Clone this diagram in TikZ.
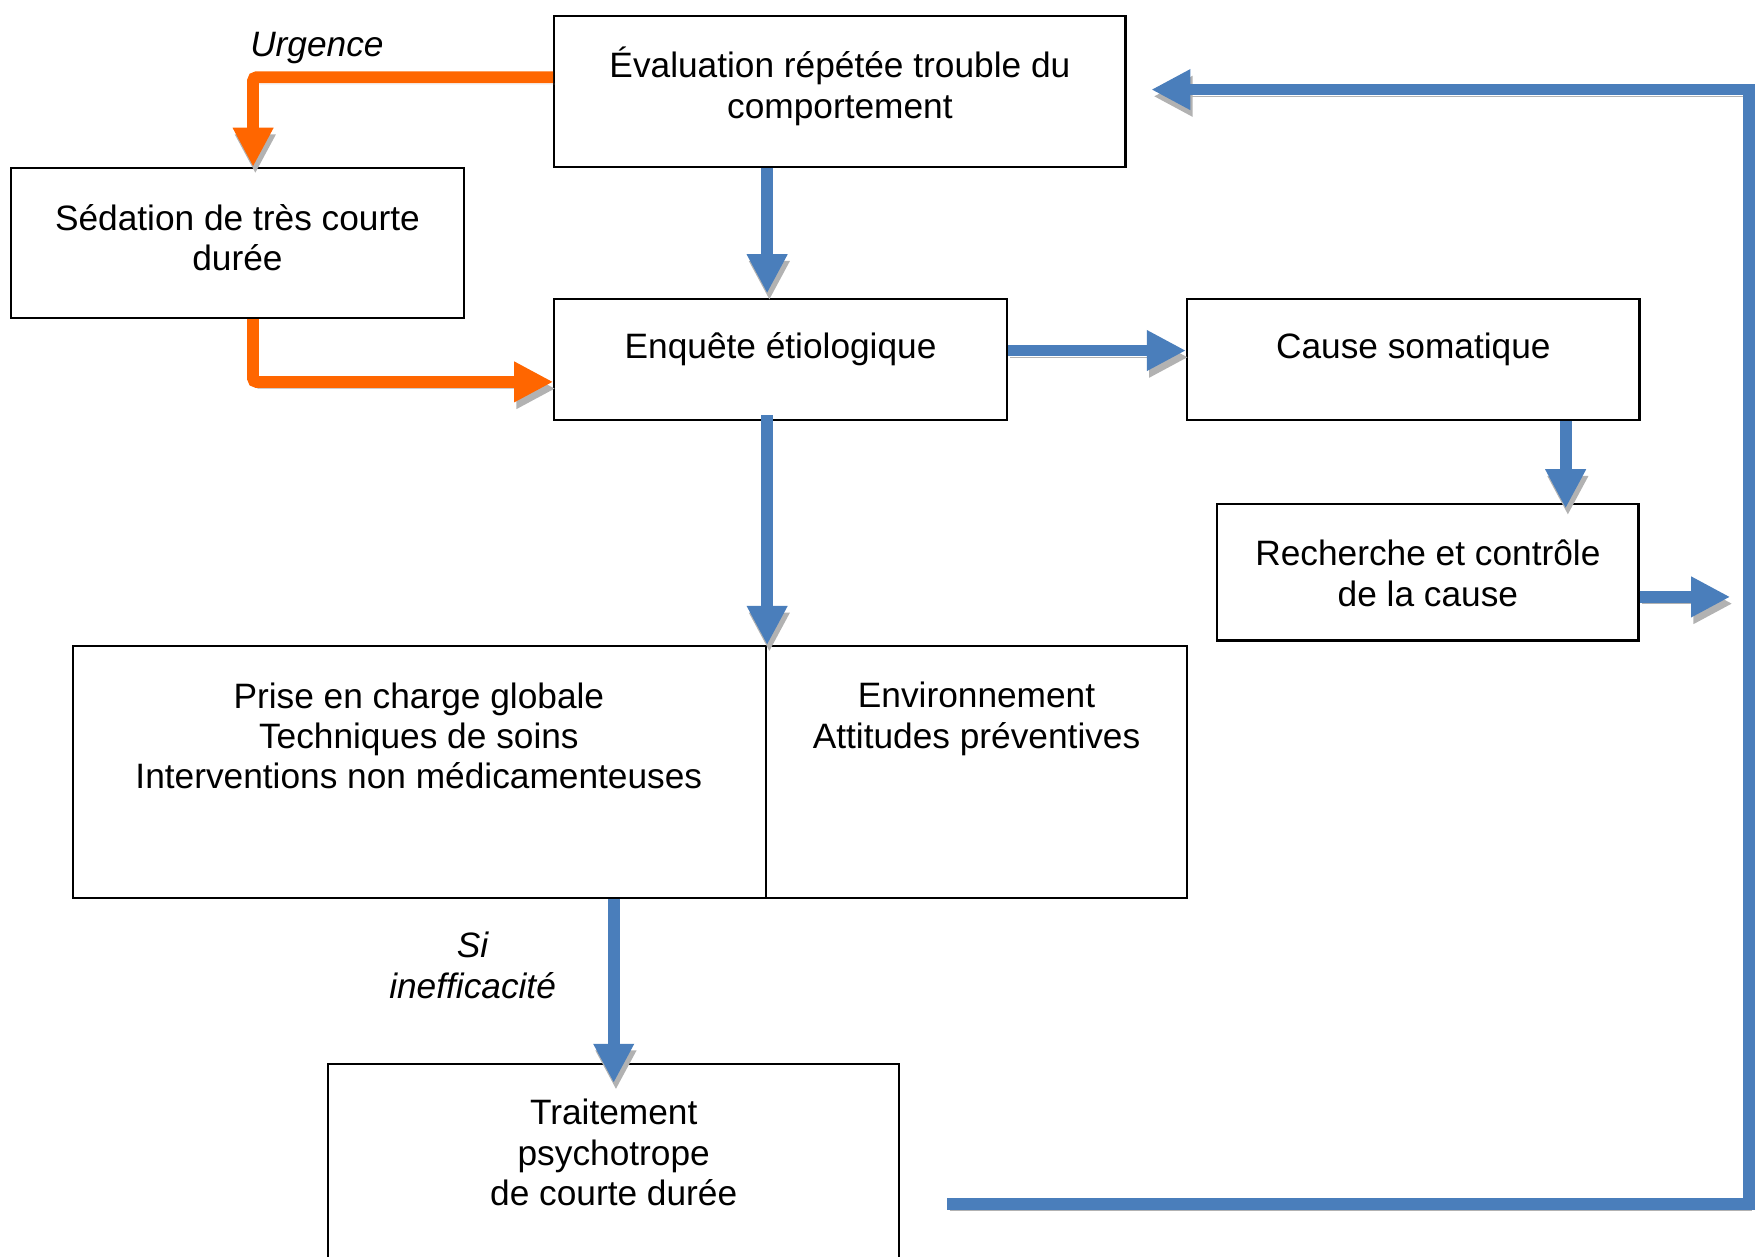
\documentclass[tikz,border=0pt]{standalone}
\usepackage{fontspec}
\setmainfont{Liberation Sans}
\usetikzlibrary{arrows.meta,calc}
\definecolor{arrblue}{HTML}{4A7EBB}
\definecolor{arrorange}{HTML}{FF6600}
\tikzset{
  box/.style={draw=black, line width=2pt, rectangle, inner sep=0pt},
  txt/.style={align=center, inner sep=0pt, font=\fontsize{31.5pt}{36pt}\selectfont},
  itxt/.style={txt, font=\fontsize{31.5pt}{36pt}\selectfont\itshape},
  conn/.style={line width=10.5pt, -{Triangle[width=34pt,length=35pt]},
    preaction={draw=gray!60, transform canvas={xshift=2pt,yshift=-6pt}}},
  blueconn/.style={conn, draw=arrblue, color=arrblue},
  orangeconn/.style={conn, draw=arrorange, color=arrorange, rounded corners=3pt},
}
\begin{document}
\begin{tikzpicture}[x=1pt,y=-1pt]
\useasboundingbox (0,0) rectangle (1568,1122);
% boxes
\node[box, minimum width=510pt, minimum height=135pt] (eval) at (750,81.5) {};
\node[box, minimum width=404pt, minimum height=134pt] (sed) at (212,217) {};
\node[box, minimum width=404pt, minimum height=108pt] (enq) at (697,321) {};
\node[box, minimum width=404pt, minimum height=108pt] (cause) at (1262,321) {};
\node[box, minimum width=376pt, minimum height=122pt] (rech) at (1275,511) {};
\node[box, minimum width=619pt, minimum height=225pt] (prise) at (374.5,689.5) {};
\node[box, minimum width=376pt, minimum height=225pt] (env) at (872,689.5) {};
\node[box, minimum width=510pt, minimum height=220pt] (trait) at (548,1060) {};
% texts
\node[txt] (evalt) at (750,77) {Évaluation répétée trouble du\\comportement};
\node[txt] (sedt) at (212,212) {Sédation de très courte\\durée};
\node[txt] (enqt) at (697,312) {Enquête étiologique};
\node[txt] (causet) at (1262,312) {Cause somatique};
\node[txt] (recht) at (1275,512) {Recherche et contrôle\\de la cause};
\node[txt] (priset) at (374,657) {Prise en charge globale\\Techniques de soins\\Interventions non médicamenteuses};
\node[txt] (envt) at (872,642) {Environnement\\Attitudes préventives};
\node[txt] (traitt) at (548,1029) {Traitement\\psychotrope\\de courte durée};
\node[itxt] (urg) at (283,43) {Urgence};
\node[itxt] (siin) at (422,862) {Si\\inefficacité};
% coordinates
\coordinate (fbstart) at (846,1075);
\coordinate (fbcorner) at (1562,80);
\coordinate (rechout) at (1545,533);
% orange connectors
\draw[orangeconn] ($(eval.north west)+(0,56)$) -| ($(sed.north)+(14,0)$);
\draw[orangeconn] ($(sed.south)+(14,0)$) |- ($(enq.west)+(0,20)$);
% blue connectors
\draw[blueconn, shorten >=4pt] (eval.south -| prise.north east) -- (enq.north -| prise.north east);
\draw[blueconn] ($(enq.east)+(0,-8)$) -- ($(cause.west)+(0,-8)$);
\draw[blueconn, shorten >=-5pt] ($(cause.south east)+(-67,0)$) -- ($(rech.north east)+(-66,0)$);
\draw[blueconn] ($(enq.south -| prise.north east)+(0,-5)$) -- (prise.north east);
\draw[blueconn] ($(rech.east)+(0,22)$) -- (rechout);
\draw[blueconn, shorten >=-18pt] (prise.south -| trait.north) -- (trait.north);
\draw[blueconn] (fbstart) -| (fbcorner) -- ($(eval.east)+(22,-1.5)$);
\end{tikzpicture}
\end{document}
